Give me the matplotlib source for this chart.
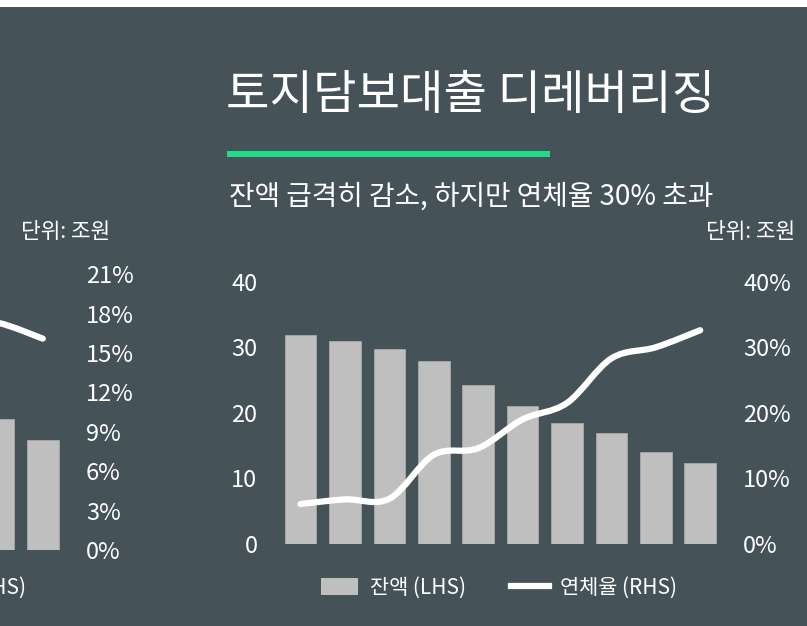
import matplotlib.pyplot as plt
from matplotlib.path import Path
from matplotlib.patches import PathPatch, Patch, Rectangle
from matplotlib.lines import Line2D
from matplotlib.ticker import FuncFormatter

plt.rcParams['font.family'] = ['Noto Sans CJK KR', 'DejaVu Sans']
plt.rcParams['font.weight'] = 'light'

# main chart data (잔액: 조원, 연체율: %)
balance = [31.8, 30.9, 29.8, 27.9, 24.2, 21.1, 18.4, 16.9, 14.0, 12.4]
delinq = [6.1, 6.8, 6.9, 13.6, 14.6, 19.0, 21.5, 28.3, 30.0, 32.6]
left_ticks = [0, 10, 20, 30, 40]
right_ticks = [0, 10, 20, 30, 40]

# previous chart, only its right edge is visible
prev_balance = [16.6, 14.0]
prev_delinq = [17.6, 17.3, 16.1]
prev_right_ticks = [0, 3, 6, 9, 12, 15, 18, 21]

BG = '#455358'
BAR = '#bfbfbf'
W, H = 807, 626


def smooth_path(xs, ys):
    # excel style smoothed line (catmull-rom as bezier)
    pts = list(zip(xs, ys))
    verts = [pts[0]]
    codes = [Path.MOVETO]
    n = len(pts)
    for i in range(n - 1):
        p0 = pts[i - 1] if i > 0 else pts[i]
        p1 = pts[i]
        p2 = pts[i + 1]
        p3 = pts[i + 2] if i + 2 < n else pts[i + 1]
        c1 = (p1[0] + (p2[0] - p0[0]) / 6, p1[1] + (p2[1] - p0[1]) / 6)
        c2 = (p2[0] - (p3[0] - p1[0]) / 6, p2[1] - (p3[1] - p1[1]) / 6)
        verts += [c1, c2, p2]
        codes += [Path.CURVE4] * 3
    return Path(verts, codes)


def box(x0, y_top, x1, y_bot):
    return [x0 / W, 1 - y_bot / H, (x1 - x0) / W, (y_bot - y_top) / H]


fig = plt.figure(figsize=(W / 100, H / 100), dpi=100, facecolor='white')
fig.patches.append(Rectangle((0, 0), 1, 1 - 7 / H, transform=fig.transFigure,
                             facecolor=BG, edgecolor='none', zorder=-10))


def style(ax):
    ax.set_facecolor('none')
    for s in ax.spines.values():
        s.set_visible(False)
    ax.tick_params(length=0, colors='white', labelsize=17, pad=15)


# main chart
ax = fig.add_axes(box(278.3, 281.7, 722.4, 544))
ax2 = ax.twinx()
style(ax)
style(ax2)
x = range(len(balance))
ax.bar(x, balance, width=0.71, color=BAR, edgecolor='#a9a9a9', linewidth=0.6)
ax.set_xlim(-0.5, len(balance) - 0.5)
ax.set_ylim(0, 40)
ax.set_yticks(left_ticks)
ax.set_xticks([])
ax2.set_ylim(0, 40)
ax2.set_yticks(right_ticks)
ax2.yaxis.set_major_formatter(FuncFormatter(lambda v, p: f'{v:.0f}%'))
ax2.add_patch(PathPatch(smooth_path(list(x), delinq), fill=False, edgecolor='white',
                        linewidth=4.5, capstyle='round', joinstyle='round'))

# previous chart on the left, cut off by the slide edge
bx = fig.add_axes(box(-379, 274.3, 65, 550))
bx2 = bx.twinx()
style(bx)
style(bx2)
px = range(len(prev_balance))
bx.bar(px, prev_balance, width=0.71, color=BAR, edgecolor='#a9a9a9', linewidth=0.6)
bx.set_xlim(-8.5, 1.5)
bx.set_ylim(0, 35)
bx.set_xticks([])
bx.set_yticks([])
bx2.set_ylim(0, 21)
bx2.set_yticks(prev_right_ticks)
bx2.yaxis.set_major_formatter(FuncFormatter(lambda v, p: f'{v:.0f}%'))
lx = [i - 1 for i in range(len(prev_delinq))]
bx2.add_patch(PathPatch(smooth_path(lx, prev_delinq), fill=False, edgecolor='white',
                        linewidth=4.5, capstyle='round', joinstyle='round'))
fig.text(26 / W, 1 - 588 / H, '연체율 (RHS)', color='white', fontsize=15,
         ha='right', va='center')
fig.text(110 / W, 1 - 232 / H, '단위: 조원', color='white', fontsize=15.4,
         ha='right', va='center')

# titles
fig.text(226 / W, 1 - 96 / H, '토지담보대출 디레버리징', color='white', fontsize=34,
         ha='left', va='center')
fig.patches.append(Rectangle((227 / W, 1 - 156.5 / H), 323 / W, 6 / H,
                             transform=fig.transFigure, facecolor='#20dc88',
                             edgecolor='none'))
fig.text(229 / W, 1 - 197 / H, '잔액 급격히 감소, 하지만 연체율 30% 초과', color='white',
         fontsize=20, ha='left', va='center')
fig.text(795 / W, 1 - 232 / H, '단위: 조원', color='white', fontsize=15.4,
         ha='right', va='center')

handles = [Patch(facecolor=BAR, edgecolor='none', label='잔액 (LHS)'),
           Line2D([], [], color='white', linewidth=4.5, label='연체율 (RHS)')]
fig.legend(handles=handles, loc='center', bbox_to_anchor=(499 / W, 1 - 588 / H),
           ncol=2, frameon=False, fontsize=15, labelcolor='white',
           handlelength=1.8, handleheight=0.9, handletextpad=0.55, columnspacing=2.2)

fig.savefig('out.png', dpi=100, facecolor=fig.get_facecolor())
